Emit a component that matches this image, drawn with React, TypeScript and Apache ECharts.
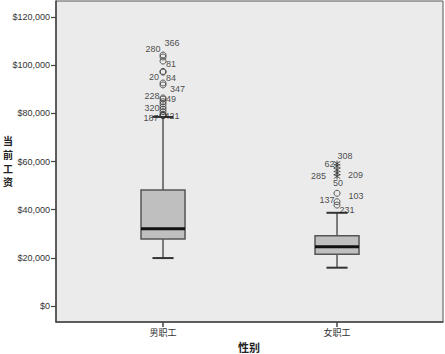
import React, { useEffect, useRef } from "react";
import * as echarts from "echarts";

const categories = ["男职工", "女职工"];
const yTicks = [0, 20000, 40000, 60000, 80000, 100000, 120000];
const yTitleChars = ["当", "前", "工", "资"];
const xTitle = "性别";
// [min, Q1, median, Q3, max]
const maleBox = [19900, 27800, 32100, 48200, 78500];
const femaleBox = [15900, 21500, 24600, 29200, 38700];

const maleOutlierIds = ["366", "280", "81", "20", "84", "347", "", "228", "49", "", "", "", "320", "", "", "187", "421"];
const maleOutlierValues = [104200, 103400, 101700, 97400, 97100, 91800, 92600, 86400, 85900, 84800, 83900, 82700, 81700, 80700, 79600, 79200, 79000];

const femaleExtremeIds = ["308", "62", "285", "209", "50"];
const femaleExtremeValues = [59200, 58100, 56500, 55200, 53800];

const femaleOutlierIds = ["103", "137", "231"];
const femaleOutlierValues = [46800, 43300, 41900];

// label offsets (styling)
const maleLabelOffsets: number[][] = [[9, -12], [-10, -8], [8, 3], [-9, 6], [8, 6], [14.5, 4], [0, 0], [-11, -1.5], [8, 0], [0, 0], [0, 0], [0, 0], [-11, -1.5], [0, 0], [0, 0], [-12, 3], [9, 0]];
const femaleExtremeOffsets: number[][] = [[8, -7.5], [-7.5, -2], [-18.5, 5.7], [18.5, 2], [1, 6.5]];
const femaleOutlierOffsets: number[][] = [[19, 3], [-10, -1.7], [10, 5]];

const STAR = "path://M4.4,0L5.6,0L5.6,10L4.4,10ZM0.3,2.1L0.9,1.1L9.7,7.9L9.1,8.9ZM9.1,1.1L9.7,2.1L0.9,8.9L0.3,7.9Z";

function fmtMoney(v: number) {
  return "$" + Math.round(v).toLocaleString("en-US");
}

function mkPoints(x: number, ids: string[], vals: number[], offs: number[][]) {
  return vals.map((v, i) => ({
    name: ids[i],
    value: [x, v],
    label: { offset: offs[i] },
  }));
}

export default function App() {
  const ref = useRef<HTMLDivElement>(null);
  useEffect(() => {
    if (!ref.current) return;
    const chart = echarts.init(ref.current, undefined, { renderer: "svg" });
    const labelStyle = {
      show: true,
      position: "inside" as const,
      formatter: (p: any) => p.name,
      color: "#1a1a1a",
      fontSize: 9,
      fontFamily: "Liberation Sans, Arial, sans-serif",
      align: "center" as const,
      verticalAlign: "middle" as const,
    };
    const option: any = {
      animation: false,
      backgroundColor: "#ffffff",
      grid: {
        left: 56,
        right: 2,
        top: 1,
        bottom: 32,
        show: true,
        backgroundColor: "#ebebeb",
        borderColor: "#555",
        borderWidth: 1,
        containLabel: false,
        outerBoundsMode: "none",
      },
      xAxis: {
        type: "value",
        min: -0.615,
        max: 1.609,
        splitLine: { show: false },
        axisLine: { show: true, onZero: false, lineStyle: { color: "#444", width: 1.5 } },
        axisTick: { show: true, length: 5, customValues: [0, 1], lineStyle: { color: "#444", width: 1.5 } },
        axisLabel: {
          customValues: [0, 1],
          formatter: (v: number) => categories[Math.round(v)] ?? "",
          fontSize: 9,
          color: "#333",
          margin: 6,
          fontFamily: "Noto Sans CJK SC, sans-serif",
        },
      },
      yAxis: {
        type: "value",
        min: -6650,
        max: 126650,
        splitLine: { show: false },
        axisLine: { show: true, onZero: false, lineStyle: { color: "#444", width: 1.5 } },
        axisTick: { show: true, length: 5, customValues: yTicks, lineStyle: { color: "#444", width: 1.2 } },
        axisLabel: {
          customValues: yTicks,
          formatter: (v: number) => fmtMoney(v),
          fontSize: 9,
          color: "#333",
          margin: 6,
          fontFamily: "Liberation Sans, Arial, sans-serif",
        },
      },
      graphic: [
        ...yTitleChars.map((c, i) => ({
          type: "text",
          x: 8,
          y: 140.5 + i * 13.8,
          style: {
            text: c,
            font: "bold 10px 'Noto Sans CJK SC', sans-serif",
            fill: "#222",
            align: "center",
            verticalAlign: "middle",
          },
        })),
        {
          type: "text",
          x: 249,
          y: 347,
          style: {
            text: xTitle,
            font: "bold 11px 'Noto Sans CJK SC', sans-serif",
            fill: "#222",
            align: "center",
            verticalAlign: "middle",
          },
        },
      ],
      series: [
        {
          type: "custom",
          data: [[0, ...maleBox], [1, ...femaleBox]],
          encode: { x: 0, y: [1, 2, 3, 4, 5] },
          renderItem: (params: any, api: any) => {
            const x = api.value(0);
            const pMin = api.coord([x, api.value(1)]);
            const pQ1 = api.coord([x, api.value(2)]);
            const pMed = api.coord([x, api.value(3)]);
            const pQ3 = api.coord([x, api.value(4)]);
            const pMax = api.coord([x, api.value(5)]);
            const hw = api.size([0.2529, 0])[0] / 2;
            const cw = hw * 0.48;
            const cx = pMed[0];
            const ws = { stroke: "#555", lineWidth: 1.5 };
            return {
              type: "group",
              children: [
                { type: "line", shape: { x1: cx, y1: pMin[1], x2: cx, y2: pQ1[1] }, style: ws },
                { type: "line", shape: { x1: cx, y1: pQ3[1], x2: cx, y2: pMax[1] }, style: ws },
                { type: "line", shape: { x1: cx - cw, y1: pMin[1], x2: cx + cw, y2: pMin[1] }, style: { stroke: "#333", lineWidth: 2 } },
                { type: "line", shape: { x1: cx - cw, y1: pMax[1], x2: cx + cw, y2: pMax[1] }, style: { stroke: "#333", lineWidth: 2 } },
                {
                  type: "rect",
                  shape: { x: cx - hw, y: pQ3[1], width: hw * 2, height: pQ1[1] - pQ3[1] },
                  style: { fill: "#bfbfbf", stroke: "#555", lineWidth: 1.5 },
                },
                { type: "line", shape: { x1: cx - hw, y1: pMed[1], x2: cx + hw, y2: pMed[1] }, style: { stroke: "#111", lineWidth: 3 } },
              ],
            };
          },
          z: 2,
        },
        {
          type: "scatter",
          symbol: "circle",
          symbolSize: 6,
          itemStyle: { color: "rgba(0,0,0,0)", borderColor: "#333", borderWidth: 1 },
          label: labelStyle,
          data: [
            ...mkPoints(0, maleOutlierIds, maleOutlierValues, maleLabelOffsets),
            ...mkPoints(1, femaleOutlierIds, femaleOutlierValues, femaleOutlierOffsets),
          ],
          z: 3,
        },
        {
          type: "scatter",
          symbol: STAR,
          symbolSize: [7, 6],
          itemStyle: { color: "#222" },
          label: labelStyle,
          data: mkPoints(1, femaleExtremeIds, femaleExtremeValues, femaleExtremeOffsets),
          z: 3,
        },
      ],
    };
    chart.setOption(option);
    return () => chart.dispose();
  }, []);
  return (
    <div
      ref={ref}
      style={{ position: "fixed", left: 0, top: 0, width: 445, height: 354, background: "#fff" }}
    />
  );
}
